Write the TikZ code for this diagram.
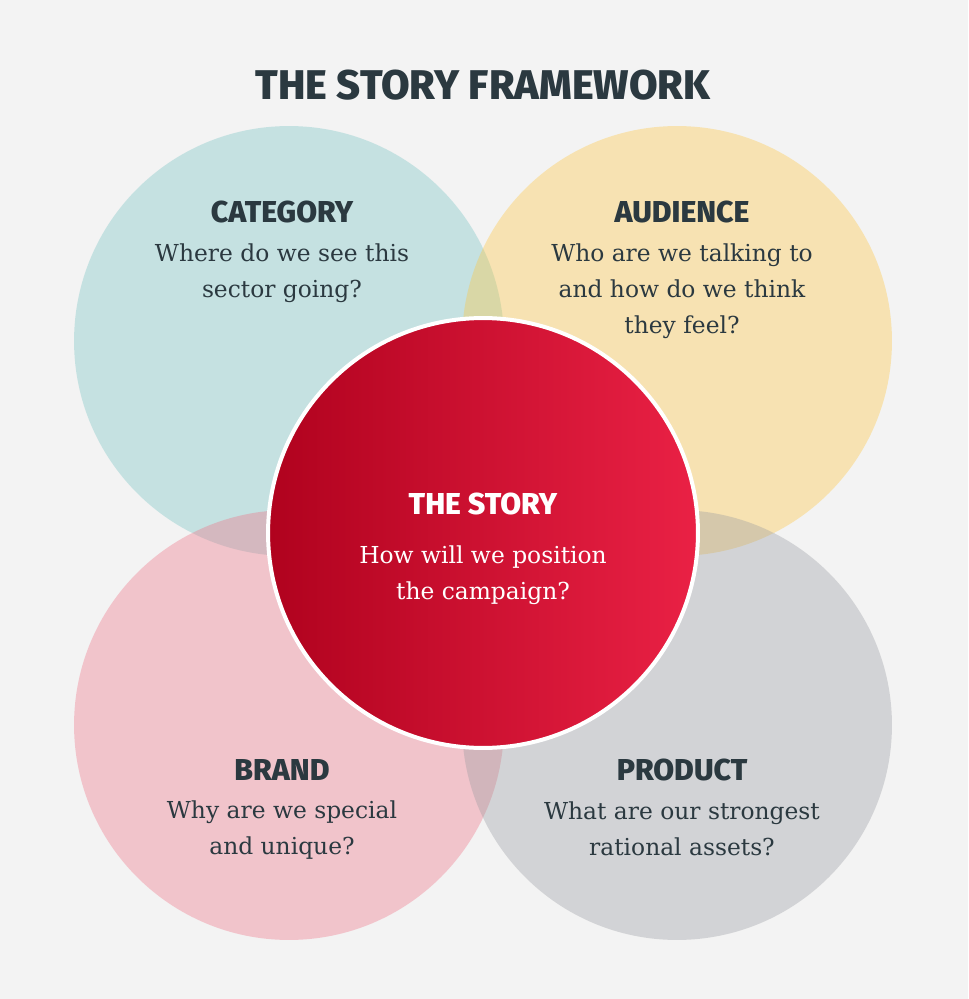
\documentclass[tikz,border=0pt]{standalone}
\usepackage{fontspec}
\setmainfont{DejaVu Serif}
\setsansfont{Fira Sans}
\newfontfamily\heavyfont{Fira Sans ExtraBold}
\usepackage{tikz}
\usetikzlibrary{positioning}
\definecolor{Paper}{HTML}{F3F3F3}
\definecolor{Ink}{HTML}{2B3940}
\definecolor{Teal}{HTML}{72C2C2}
\definecolor{Sun}{HTML}{FFC539}
\definecolor{Rose}{HTML}{F06D81}
\definecolor{Stone}{HTML}{979AA0}
\definecolor{Crimson}{HTML}{B0021E}
\definecolor{Scarlet}{HTML}{EA2145}
\tikzset{
  bubble/.style={circle,minimum size=8.6cm,inner sep=0pt,fill opacity=0.35},
  core/.style={circle,minimum size=8.6cm,inner sep=0pt,draw=white,line width=0.08cm,left color=Crimson,right color=Scarlet},
  headline/.style={font=\heavyfont\fontsize{23.6}{26}\selectfont,text=Ink,inner sep=0pt},
  head/.style={font=\heavyfont\fontsize{17.2}{20}\selectfont,text=Ink,inner sep=0pt},
  ask/.style={font=\fontsize{13.3}{20.5}\selectfont,text=Ink,align=center,inner sep=0pt}
}

\begin{document}
\begin{tikzpicture}[x=0.02cm,y=-0.02cm,node distance=0.4cm]
  \fill[Paper] (0,0) rectangle (968,999);
  \useasboundingbox (0,0) rectangle (968,999);

  \node[headline] (title) at (483,85) {THE STORY FRAMEWORK};

  % four overlapping circles
  \node[bubble,fill=Teal] (category) at (289,341) {};
  \node[bubble,fill=Sun] (audience) at (677,341) {};
  \node[bubble,fill=Rose] (brand) at (289,725) {};
  \node[bubble,fill=Stone] (product) at (677,725) {};
  \node[core] (story) at (483,533) {};

  \node[head] (categoryHead) at (282,212) {CATEGORY};
  \node[ask,below=of categoryHead] (categoryAsk) {Where do we see this\\sector going?};

  \node[head] (audienceHead) at (682,212) {AUDIENCE};
  \node[ask,below=of audienceHead] (audienceAsk) {Who are we talking to\\and how do we think\\they feel?};

  \node[head,text=white] (storyHead) at (483,504) {THE STORY};
  \node[ask,text=white,below=0.6cm of storyHead] (storyAsk) {How will we position\\the campaign?};

  \node[head] (brandHead) at (282,770) {BRAND};
  \node[ask,below=of brandHead] (brandAsk) {Why are we special\\and unique?};

  \node[head] (productHead) at (682,770) {PRODUCT};
  \node[ask,below=of productHead] (productAsk) {What are our strongest\\rational assets?};
\end{tikzpicture}
\end{document}
